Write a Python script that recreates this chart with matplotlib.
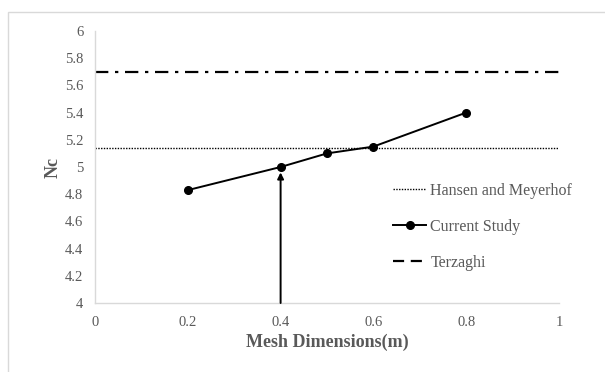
import matplotlib
matplotlib.use("Agg")
import matplotlib.pyplot as plt
from matplotlib.lines import Line2D
from matplotlib.patches import Rectangle

# Data
mesh_size = [0.2, 0.4, 0.5, 0.6, 0.8]
nc_current = [4.83, 5.0, 5.1, 5.15, 5.4]
nc_hansen_meyerhof = 5.14
nc_terzaghi = 5.7
arrow_x = 0.4
arrow_top = 4.96
x_ticks = [0, 0.2, 0.4, 0.6, 0.8, 1]
x_tick_labels = ["0", "0.2", "0.4", "0.6", "0.8", "1"]
y_ticks = [4, 4.2, 4.4, 4.6, 4.8, 5, 5.2, 5.4, 5.6, 5.8, 6]
y_tick_labels = ["4", "4.2", "4.4", "4.6", "4.8", "5", "5.2", "5.4", "5.6", "5.8", "6"]

plt.rcParams["font.family"] = ["Liberation Serif", "DejaVu Serif"]
gray = "#595959"
spine_gray = "#d9d9d9"

fig = plt.figure(figsize=(6.05, 3.72), dpi=100)
fig.patches.append(Rectangle((8 / 605, -0.05), 1.0, 1.05 - 12 / 372,
                             transform=fig.transFigure, fill=False,
                             edgecolor="#d9d9d9", linewidth=1.0))

ax = fig.add_axes([95 / 605, 1 - 303 / 372, (559 - 95) / 605, (303 - 31) / 372])

ax.axhline(nc_hansen_meyerhof, color="black", linestyle=(0, (1, 1)), linewidth=1.0)
ax.axhline(nc_terzaghi, color="black", linestyle=(0, (6, 3, 1.5, 3)), linewidth=1.6)
ax.plot(mesh_size, nc_current, color="black", linewidth=1.4, marker="o", markersize=5.5)

ax.annotate("", xy=(arrow_x, arrow_top), xytext=(arrow_x, 4.0),
            arrowprops=dict(arrowstyle="-|>", color="black", linewidth=1.4,
                            mutation_scale=9, shrinkA=0, shrinkB=0))

ax.set_xlim(0, 1)
ax.set_ylim(4, 6)
ax.set_xticks(x_ticks)
ax.set_xticklabels(x_tick_labels)
ax.set_yticks(y_ticks)
ax.set_yticklabels(y_tick_labels)
ax.tick_params(axis="both", length=0, labelsize=10.5, labelcolor=gray)
ax.tick_params(axis="x", pad=9)
ax.tick_params(axis="y", pad=8.5)

for side in ["top", "right"]:
    ax.spines[side].set_visible(False)
for side in ["left", "bottom"]:
    ax.spines[side].set_color(spine_gray)
    ax.spines[side].set_linewidth(1.0)

ax.set_xlabel("Mesh Dimensions(m)", fontsize=13, fontweight="bold", color=gray, labelpad=4)
ax.set_ylabel("Nc", fontsize=13, fontweight="bold", color=gray, labelpad=2)

handles = [
    Line2D([], [], color="black", linestyle=(0, (1, 1)), linewidth=1.0),
    Line2D([], [], color="black", linewidth=1.4, marker="o", markersize=5.5),
    Line2D([], [], color="black", linestyle=(0, (5, 3)), linewidth=1.6),
]
labels = ["Hansen and Meyerhof", "Current Study", "Terzaghi"]
leg = ax.legend(handles, labels, loc="center left", bbox_to_anchor=(0.642, 0.28),
                frameon=False, fontsize=11.5, labelcolor=gray, handlelength=2.1,
                handletextpad=0.25, labelspacing=1.25, borderaxespad=0, borderpad=0)

fig.savefig("out.png", dpi=100)
